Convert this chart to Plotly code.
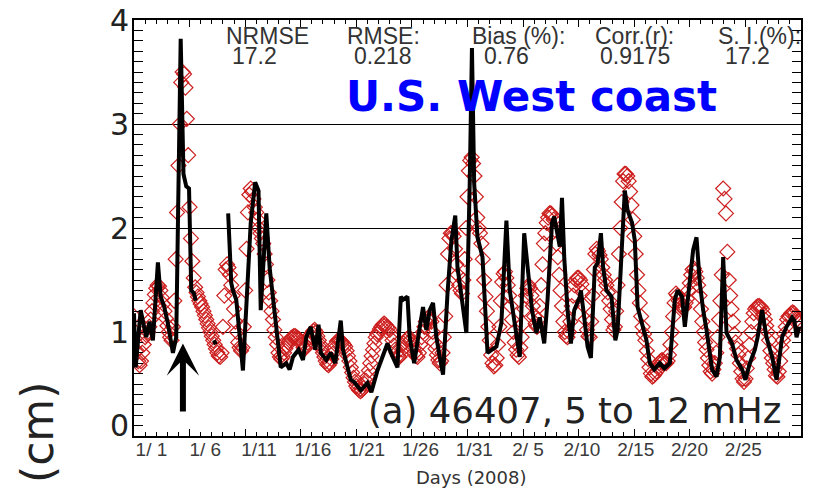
import plotly.graph_objects as go

# ---------------- data ----------------
# observed series (black line): day since 2008-01-01 00:00, value (cm); None = gap
obs_day = [0.0, 0.15, 0.6, 1.1, 1.4, 1.7, 2.15, 2.4, 2.7, 3.05, 3.5, 3.8, 4.2, 4.45, 4.7, 4.95,
           5.15, 5.4, 5.55, None, 7.2, 7.35, None,
           8.47, 8.75, 8.9, 9.2, 9.8, 10.27, 10.5, 10.9, 11.2, 11.4, 11.9, 12.2, 12.5, 12.8,
           13.2, 13.7, 14.0, 14.3, 14.8, 15.2, 15.5, 15.9, 16.3, 16.6, 16.8, 17.3, 17.7, 18.1,
           18.6, 18.8, 19.1, 19.5, 19.8, 20.4, 21.0, 21.35, 21.9, 22.5, 22.8, 23.1, 23.4, 23.7,
           24.0, 24.2, 24.6, 24.8, 25.2, 25.7, 26.0, 26.3, 26.6, 26.9, 27.2, 27.5, 27.8, 28.2,
           28.55, 28.9, 29.1, 29.5, 29.9, 30.2, 30.4, 30.6, 30.9, 31.35, 31.8, 32.2, 32.6, 33.05,
           33.5, 33.8, 34.2, 34.7, 35.1, 35.4, 35.8, 36.2, 36.5, 36.9, 37.2, 37.6, 37.8, 38.3,
           38.5, 38.7, 39.0, 39.3, 39.6, 40.1, 40.2, 40.5, 40.8, 41.1, 41.45, 41.7, 42.0, 42.2,
           42.5, 42.95, 43.3, 43.5, 43.9, 44.15, 44.4, 44.8, 45.05, 45.3, 45.7, 46.1, 46.4, 46.8,
           47.3, 47.7, 48.2, 48.65, 48.9, 49.3, 49.55, 50.0, 50.3, 50.6, 50.9, 51.2, 51.5, 52.0,
           52.4, 52.7, 53.0, 53.3, 53.8, 54.2, 54.7, 55.0, 55.4, 55.85, 56.1, 56.5, 56.9, 57.4,
           57.8, 58.3, 58.7, 59.2, 59.4, 59.6, 59.85]
obs_val = [1.18, 0.66, 1.21, 0.95, 1.10, 0.92, 1.67, 1.34, 1.25, 1.08, 0.80, 0.95, 3.82, 2.52, 2.40, 2.38,
           1.40, 1.37, 1.30, None, 0.92, 0.88, None,
           2.14, 1.47, 1.40, 1.31, 0.63, 1.62, 2.05, 2.44, 2.36, 1.21, 2.14, 1.62, 1.31, 1.05,
           0.66, 0.70, 0.64, 0.76, 0.83, 0.73, 0.95, 1.05, 0.83, 1.07, 0.80, 0.73, 0.80, 0.70,
           1.11, 0.83, 0.70, 0.54, 0.52, 0.44, 0.51, 0.42, 0.63, 0.80, 0.89, 0.80, 0.73, 0.66,
           1.34, 1.31, 1.34, 0.95, 0.70, 1.02, 1.24, 1.02, 1.21, 1.28, 0.95, 0.76, 0.59, 1.37,
           1.88, 2.12, 1.62, 1.31, 0.99, 2.43, 3.73, 2.43, 1.91, 1.72, 0.80, 0.83, 0.86, 1.09,
           2.07, 1.40, 1.14, 0.76, 1.95, 1.62, 1.21, 0.99, 1.14, 0.89, 1.31, 2.05, 2.11, 1.82,
           2.29, 1.72, 1.21, 0.89, 1.21, 1.34, 1.40, 1.14, 0.86, 0.75, 1.62, 1.66, 1.95, 1.62,
           1.40, 1.34, 0.92, 1.02, 1.79, 2.36, 2.17, 2.05, 1.88, 1.24, 1.08, 0.92, 0.70, 0.64,
           0.70, 0.65, 0.70, 1.31, 1.40, 1.34, 1.05, 1.47, 1.79, 1.91, 1.47, 1.21, 1.02, 0.64,
           0.57, 0.76, 1.72, 0.99, 0.89, 0.73, 0.64, 0.54, 0.70, 0.83, 0.95, 1.21, 0.95, 0.76,
           0.54, 0.95, 1.05, 1.14, 1.11, 0.95, 1.05]

# model series (red diamonds): one value every 3 hours starting 2008-01-01 00:00
model_step_days = 0.125
model_val = [
    1.15, 1.00, 0.82, 0.72, 0.68, 0.72, 0.80, 0.88,   # 1/1
    0.95, 0.97, 1.00, 1.05, 1.12, 1.20, 1.28, 1.36,
    1.42, 1.45, 1.44, 1.40, 1.33, 1.27, 1.20, 1.13,
    1.06, 1.00, 0.95, 0.92, 1.05, 1.30, 1.70, 2.15,
    2.60, 3.00, 3.40, 3.50, 3.48, 3.35, 3.05, 2.70,   # 1/5
    2.20, 1.90, 1.68, 1.52, 1.43, 1.38, 1.34, 1.30,
    1.27, 1.24, 1.20, 1.16, 1.12, 1.08, 1.04, 1.00,
    0.96, 0.92, 0.88, 0.84, 0.80, 0.77, 0.76, 0.80,
    1.05, 1.35, 1.60, 1.65, 1.62, 1.55, 1.45, 1.35,
    1.22, 1.10, 1.00, 0.90, 0.85, 0.82, 0.85, 1.05,   # 1/10
    1.40, 1.80, 2.15, 2.32, 2.38, 2.35, 2.28, 2.20,
    2.15, 2.08, 2.00, 1.95, 1.90, 1.85, 1.75, 1.65,
    1.50, 1.38, 1.30, 1.20, 1.12, 1.02, 0.95, 0.88,
    0.80, 0.76, 0.74, 0.76, 0.80, 0.84, 0.87, 0.90,
    0.92, 0.94, 0.95, 0.96, 0.96, 0.95, 0.94, 0.93,   # 1/15
    0.91, 0.88, 0.85, 0.84, 0.86, 0.90, 0.94, 0.97,
    0.99, 1.01, 1.02, 1.00, 0.96, 0.92, 0.88, 0.84,
    0.80, 0.76, 0.72, 0.69, 0.68, 0.70, 0.74, 0.79,
    0.84, 0.88, 0.91, 0.92, 0.92, 0.91, 0.90, 0.88,
    0.86, 0.82, 0.77, 0.72, 0.66, 0.61, 0.56, 0.52,   # 1/20
    0.48, 0.46, 0.44, 0.43, 0.44, 0.46, 0.50, 0.53,
    0.57, 0.63, 0.70, 0.77, 0.83, 0.89, 0.95, 0.98,
    1.00, 1.03, 1.05, 1.07, 1.08, 1.07, 1.05, 1.04,
    1.02, 0.97, 0.92, 0.87, 0.83, 0.80, 0.77, 0.76,
    0.78, 0.83, 0.89, 0.91, 0.93, 0.94, 0.95, 0.92,   # 1/25
    0.88, 0.84, 0.80, 0.77, 0.76, 0.80, 0.88, 0.95,
    1.00, 1.05, 1.10, 1.13, 1.14, 1.13, 1.10, 1.00,
    0.90, 0.84, 0.78, 0.73, 0.70, 0.72, 0.80, 0.95,
    1.15, 1.45, 1.75, 1.90, 1.95, 1.95, 1.92, 1.80,
    1.65, 1.55, 1.45, 1.40, 1.37, 1.50, 1.70, 2.00,   # 1/30
    2.30, 2.55, 2.65, 2.68, 2.62, 2.50, 2.30, 2.10,
    2.00, 1.95, 1.85, 1.70, 1.50, 1.34, 1.20, 1.05,
    0.92, 0.78, 0.70, 0.67, 0.68, 0.75, 0.88, 1.05,
    1.30, 1.48, 1.56, 1.58, 1.52, 1.45, 1.35, 1.25,
    1.12, 1.00, 0.90, 0.83, 0.78, 0.76, 0.85, 0.95,   # 2/4
    1.08, 1.22, 1.35, 1.42, 1.45, 1.42, 1.35, 1.25,
    1.15, 1.08, 1.05, 1.12, 1.25, 1.45, 1.65, 1.85,
    1.95, 2.05, 2.10, 2.14, 2.14, 2.12, 2.08, 1.98,
    1.85, 1.72, 1.55, 1.40, 1.25, 1.10, 1.00, 0.96,
    0.95, 1.00, 1.10, 1.25, 1.35, 1.45, 1.50, 1.52,   # 2/9
    1.52, 1.50, 1.46, 1.38, 1.25, 1.12, 1.02, 0.96,
    0.95, 1.10, 1.35, 1.60, 1.75, 1.80, 1.78, 1.74,
    1.70, 1.62, 1.55, 1.50, 1.45, 1.38, 1.30, 1.22,
    1.12, 1.02, 1.05, 1.20, 1.45, 1.75, 2.00, 2.25,
    2.45, 2.52, 2.52, 2.50, 2.45, 2.35, 2.22, 2.08,   # 2/14
    1.92, 1.75, 1.55, 1.40, 1.28, 1.15, 1.05, 0.98,
    0.92, 0.82, 0.74, 0.66, 0.60, 0.57, 0.58, 0.60,
    0.62, 0.66, 0.70, 0.72, 0.73, 0.72, 0.70, 0.70,
    0.72, 0.78, 0.88, 1.00, 1.15, 1.28, 1.37, 1.35,
    1.30, 1.26, 1.24, 1.23, 1.24, 1.28, 1.32, 1.40,   # 2/19
    1.47, 1.55, 1.60, 1.61, 1.58, 1.52, 1.45, 1.35,
    1.22, 1.10, 1.00, 0.90, 0.83, 0.75, 0.68, 0.62,
    0.60, 0.64, 0.70, 0.80, 0.95, 1.12, 1.30, 1.55,
    2.38, 2.28, 2.14, 1.77, 1.50, 1.35, 1.22, 1.10,
    0.98, 0.90, 0.84, 0.78, 0.70, 0.62, 0.55, 0.52,   # 2/24
    0.55, 0.65, 0.75, 0.88, 1.00, 1.10, 1.18, 1.22,
    1.24, 1.25, 1.25, 1.24, 1.22, 1.17, 1.12, 1.06,
    1.00, 0.92, 0.82, 0.75, 0.70, 0.64, 0.58, 0.57,
    0.62, 0.72, 0.85, 0.92, 0.98, 1.05, 1.12, 1.15,
    1.16, 1.18, 1.19, 1.18, 1.15, 1.12, 1.10, 1.08,   # 2/29
]
model_day = [i * model_step_days for i in range(len(model_val))]

label_days = [0, 5, 10, 15, 20, 25, 30, 35, 40, 45, 50, 55]
label_text = ["1/ 1", "1/ 6", "1/11", "1/16", "1/21", "1/26", "1/31",
              "2/ 5", "2/10", "2/15", "2/20", "2/25"]
ytick_vals = [0, 1, 2, 3, 4]
ytick_text = ["0", "1", "2", "3", "4"]
stat_names = ["NRMSE", "RMSE:", "Bias (%):", "Corr.(r):", "S. I.(%):"]
stat_values = ["17.2", "0.218", "0.76", "0.9175", "17.2"]

# ---------------- layout geometry ----------------
W, H = 832, 492
L, R, T, B = 134, 31, 20, 56
PW, PH = W - L - R, H - T - B
XR = [0, 60]
YR = [0, 4]


def fx(px):
    return (px - L) / PW


def fy(py):
    return (H - B - py) / PH


# label positions of the reference (slightly compressed relative to the ticks)
label_pos = [1.57 + 0.968 * d for d in label_days]
ylabel_pos = [v + (0.1 if v == 0 else 0) for v in ytick_vals]

fig = go.Figure()
fig.add_trace(go.Scatter(
    x=model_day, y=model_val, mode="markers",
    marker=dict(symbol="diamond-open", size=11.5, color="rgb(205,30,30)",
                line=dict(width=1.2, color="rgb(205,30,30)")),
    showlegend=False, hoverinfo="skip"))
fig.add_trace(go.Scatter(
    x=obs_day, y=obs_val, mode="lines", connectgaps=False,
    line=dict(color="black", width=4),
    showlegend=False, hoverinfo="skip"))
# dummy trace so the label-only overlay axes are drawn
fig.add_trace(go.Scatter(x=[None], y=[None], xaxis="x2", yaxis="y2",
                         showlegend=False, hoverinfo="skip"))

tickfont_x = dict(family="Liberation Sans, Arial, sans-serif", size=19, color="#3a3a3a")
tickfont_y = dict(family="DejaVu Sans, sans-serif", size=30, color="#222222")

fig.update_layout(
    width=W, height=H, autosize=False,
    margin=dict(l=L, r=R, t=T, b=B, pad=0, autoexpand=False),
    paper_bgcolor="white", plot_bgcolor="white",
    showlegend=False,
    xaxis=dict(range=XR, showline=True, linecolor="black", linewidth=1.5, mirror="ticks",
               ticks="inside", tick0=0, dtick=5, ticklen=7, tickwidth=1.3, tickcolor="black",
               minor=dict(dtick=1, ticks="inside", ticklen=4, tickwidth=1.2, tickcolor="black",
                          showgrid=False),
               showticklabels=False, showgrid=False, zeroline=False, automargin=False),
    yaxis=dict(range=YR, showline=True, linecolor="black", linewidth=1.5, mirror="ticks",
               ticks="inside", tick0=0, dtick=1, ticklen=9, tickwidth=1.3, tickcolor="black",
               minor=dict(dtick=0.1, ticks="inside", ticklen=9, tickwidth=1.2,
                          tickcolor="black", showgrid=False),
               showgrid=True, gridcolor="black", gridwidth=1.3,
               showticklabels=False, zeroline=False, automargin=False),
    xaxis2=dict(overlaying="x", anchor="y", side="bottom", range=XR,
                tickmode="array", tickvals=label_pos, ticktext=label_text,
                ticks="", showline=False, showgrid=False, zeroline=False,
                tickfont=tickfont_x, ticklabelstandoff=0, automargin=False),
    yaxis2=dict(overlaying="y", anchor="x", side="left", range=YR,
                tickmode="array", tickvals=ylabel_pos, ticktext=ytick_text,
                ticks="", showline=False, showgrid=False, zeroline=False,
                tickfont=tickfont_y, ticklabelstandoff=4, automargin=False),
)

ann = []
stat_font = dict(family="Liberation Sans, Arial, sans-serif", size=23, color="#333333")
name_px = [267, 383, 518, 634, 759]
value_px = [254, 383, 506, 635, 747]
for n, v, xn, xv in zip(stat_names, stat_values, name_px, value_px):
    ann.append(dict(text=n, x=fx(xn), y=fy(36), xref="paper", yref="paper",
                    xanchor="center", yanchor="middle", showarrow=False, font=stat_font))
    ann.append(dict(text=v, x=fx(xv), y=fy(56), xref="paper", yref="paper",
                    xanchor="center", yanchor="middle", showarrow=False, font=stat_font))

ann.append(dict(text="<b>U.S. West coast</b>", x=fx(531), y=fy(96), xref="paper", yref="paper",
                xanchor="center", yanchor="middle", showarrow=False,
                font=dict(family="DejaVu Sans, sans-serif", size=42, color="#0000ff")))
ann.append(dict(text="(a) 46407, 5 to 12 mHz", x=fx(574), y=fy(410), xref="paper", yref="paper",
                xanchor="center", yanchor="middle", showarrow=False,
                font=dict(family="DejaVu Sans, sans-serif", size=35.5, color="#222222")))
ann.append(dict(text="Days (2008)", x=fx(471), y=fy(477), xref="paper", yref="paper",
                xanchor="center", yanchor="middle", showarrow=False,
                font=dict(family="DejaVu Sans, sans-serif", size=18, color="#333333")))
ann.append(dict(text="(cm)", x=fx(37), y=fy(433), xref="paper", yref="paper",
                xanchor="center", yanchor="middle", showarrow=False, textangle=-90,
                font=dict(family="DejaVu Sans, sans-serif", size=44, color="#222222")))
# arrow marking the event
ann.append(dict(text="", x=4.4, y=0.89, xref="x", yref="y",
                ax=4.4, ay=0.22, axref="x", ayref="y",
                showarrow=True, arrowhead=3, arrowwidth=6, arrowsize=0.9,
                arrowcolor="black", standoff=0, startstandoff=0))
fig.update_layout(annotations=ann)

fig.write_html("out.html", config={"displayModeBar": False},
               post_script="document.body.style.margin='0';document.body.style.overflow='hidden';")
